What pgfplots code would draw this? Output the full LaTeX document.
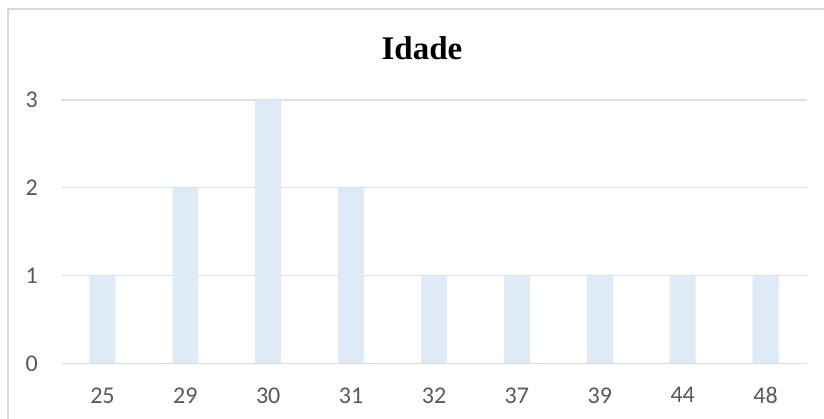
\documentclass[border=0pt]{standalone}
\usepackage{pgfplots}
\pgfplotsset{compat=1.18}
\usepackage{fontspec}
\setmainfont{Carlito}
\newfontfamily\titlefont{Liberation Serif}
\definecolor{barc}{HTML}{DEEBF7}
\definecolor{gridc}{HTML}{D2E4F4}
\definecolor{axc}{HTML}{D9D9D9}
\definecolor{frc}{HTML}{D9D9D9}
\definecolor{txt}{HTML}{595959}
\begin{document}
\begin{tikzpicture}[x=1bp,y=1bp]
\useasboundingbox (0,0) rectangle (824,418);
\draw[frc, line width=1.5bp] (8,-20) -- (8,409) -- (840,409);
\node[anchor=base, inner sep=0] at (422,359) {\titlefont\bfseries\fontsize{33bp}{38bp}\selectfont Idade};
\begin{axis}[
  at={(61bp,54.7bp)}, anchor=south west,
  scale only axis, width=746bp, height=263.3bp,
  xmin=-0.5, xmax=8.5, ymin=0, ymax=3,
  ybar, bar width=26bp,
  axis line style={draw=none},
  major tick length=0pt,
  xtick={0,...,8},
  xticklabels={25,29,30,31,32,37,39,44,48},
  ytick={0,1,2,3},
  ymajorgrids, grid style={gridc, line width=1.4bp},
  tick label style={text=txt, font=\fontsize{24bp}{28bp}\selectfont, inner sep=0pt},
  xticklabel style={anchor=north, yshift=-24bp},
  yticklabel style={anchor=east, xshift=-23bp},
  /pgf/number format/assume math mode=true,
  clip=false,
]
\addplot[fill=barc, draw=none] coordinates {(0,1) (1,2) (2,3) (3,2) (4,1) (5,1) (6,1) (7,1) (8,1)};
\draw[axc, line width=1.4bp] (axis cs:-0.5,0) -- (axis cs:8.5,0);
\end{axis}
\end{tikzpicture}
\end{document}
